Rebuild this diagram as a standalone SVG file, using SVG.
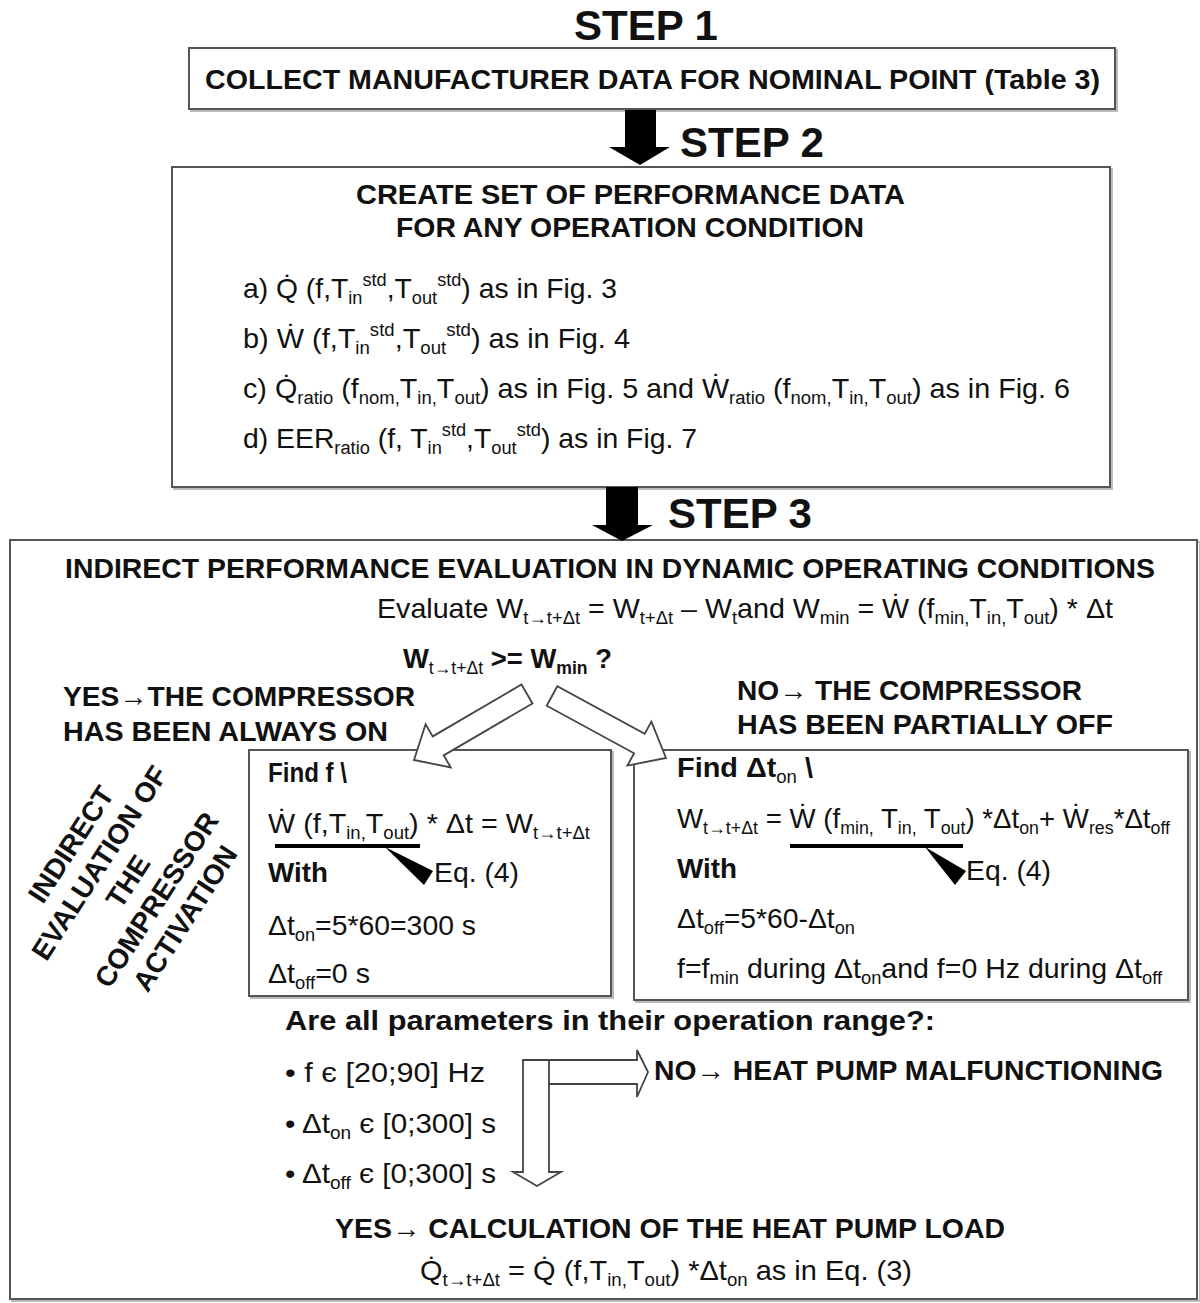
<svg xmlns="http://www.w3.org/2000/svg" width="1200" height="1303" viewBox="0 0 1200 1303">
<style>
text{fill:#111;font-family:"Liberation Sans Narrow","Liberation Sans",Arial,sans-serif}
.b{font-weight:bold}
.st{font-family:"Liberation Sans",Arial,sans-serif;font-weight:bold;font-size:42px}
.h{font-weight:bold;font-size:28px}
.r{font-size:28px}
.s{font-size:18px}
.sb{font-size:18px;font-weight:normal}
.box{fill:#fff;stroke:#555;stroke-width:2}
.shadow{fill:none;stroke:#bbb;stroke-width:2}
.solid{fill:#000;stroke:none}
.hollow{fill:#fff;stroke:#444;stroke-width:1.8;stroke-linejoin:miter}
.rot{font-family:"Liberation Sans",Arial,sans-serif;font-weight:bold;font-size:28px}
</style>

<g id="step1">
<text class="st" x="646" y="40" text-anchor="middle">STEP 1</text>
<rect class="shadow" x="191" y="50" width="926" height="61"/>
<rect class="box" x="189" y="48" width="926" height="61"/>
<text class="h" x="205" y="89" textLength="895" lengthAdjust="spacingAndGlyphs">COLLECT MANUFACTURER DATA FOR NOMINAL POINT (Table 3)</text>
</g>

<g id="step2">
<text class="st" x="680" y="157">STEP 2</text>
<rect class="shadow" x="174" y="169" width="938" height="320"/>
<rect class="box" x="172" y="167" width="938" height="320"/>
<text class="h" x="356" y="204" textLength="549" lengthAdjust="spacingAndGlyphs">CREATE  SET OF PERFORMANCE DATA</text>
<text class="h" x="396" y="237" textLength="468" lengthAdjust="spacingAndGlyphs">FOR ANY OPERATION CONDITION</text>
<text class="r" x="243" y="298" textLength="374" lengthAdjust="spacingAndGlyphs">a) Q&#x307; (f,T<tspan class="s" dy="6">in</tspan><tspan class="s" dy="-18">std</tspan><tspan dy="12">,T</tspan><tspan class="s" dy="6">out</tspan><tspan class="s" dy="-18">std</tspan><tspan dy="12">) as in Fig. 3</tspan></text>
<text class="r" x="243" y="348" textLength="387" lengthAdjust="spacingAndGlyphs">b) W&#x307; (f,T<tspan class="s" dy="6">in</tspan><tspan class="s" dy="-18">std</tspan><tspan dy="12">,T</tspan><tspan class="s" dy="6">out</tspan><tspan class="s" dy="-18">std</tspan><tspan dy="12">)  as in Fig. 4</tspan></text>
<text class="r" x="243" y="398" textLength="827" lengthAdjust="spacingAndGlyphs">c) Q&#x307;<tspan class="s" dy="6">ratio</tspan><tspan dy="-6"> (f</tspan><tspan class="s" dy="6">nom,</tspan><tspan dy="-6">T</tspan><tspan class="s" dy="6">in,</tspan><tspan dy="-6">T</tspan><tspan class="s" dy="6">out</tspan><tspan dy="-6">) as in Fig. 5 and W&#x307;</tspan><tspan class="s" dy="6">ratio</tspan><tspan dy="-6"> (f</tspan><tspan class="s" dy="6">nom,</tspan><tspan dy="-6">T</tspan><tspan class="s" dy="6">in,</tspan><tspan dy="-6">T</tspan><tspan class="s" dy="6">out</tspan><tspan dy="-6">) as in Fig. 6</tspan></text>
<text class="r" x="243" y="448" textLength="454" lengthAdjust="spacingAndGlyphs">d) EER<tspan class="s" dy="6">ratio</tspan><tspan dy="-6"> (f, T</tspan><tspan class="s" dy="6">in</tspan><tspan class="s" dy="-18">std</tspan><tspan dy="12">,T</tspan><tspan class="s" dy="6">out</tspan><tspan class="s" dy="-18">std</tspan><tspan dy="12">) as in Fig. 7</tspan></text>
</g>

<g id="step3">
<text class="st" x="668" y="528">STEP 3</text>
<rect class="shadow" x="12" y="542" width="1188" height="759"/>
<rect class="box" x="10" y="540" width="1187" height="759"/>
<text class="h" x="65" y="578" textLength="1090" lengthAdjust="spacingAndGlyphs">INDIRECT PERFORMANCE EVALUATION IN DYNAMIC OPERATING CONDITIONS</text>
<text class="r" x="377" y="618" textLength="736" lengthAdjust="spacingAndGlyphs">Evaluate W<tspan class="s" dy="6">t→t+Δt</tspan><tspan dy="-6"> = W</tspan><tspan class="s" dy="6">t+Δt</tspan><tspan dy="-6"> – W</tspan><tspan class="s" dy="6">t</tspan><tspan dy="-6">and  W</tspan><tspan class="s" dy="6">min</tspan><tspan dy="-6"> = W&#x307; (f</tspan><tspan class="s" dy="6">min,</tspan><tspan dy="-6">T</tspan><tspan class="s" dy="6">in,</tspan><tspan dy="-6">T</tspan><tspan class="s" dy="6">out</tspan><tspan dy="-6">) * Δt</tspan></text>
<text class="h" x="403" y="668" textLength="209" lengthAdjust="spacingAndGlyphs">W<tspan class="sb" dy="6">t→t+Δt</tspan><tspan dy="-6"> &gt;= W</tspan><tspan class="s" dy="6">min</tspan><tspan dy="-6"> ?</tspan></text>
</g>

<g id="yes-branch">
<text class="h" x="63" y="706" textLength="352" lengthAdjust="spacingAndGlyphs">YES→THE COMPRESSOR</text>
<text class="h" x="63" y="741" textLength="325" lengthAdjust="spacingAndGlyphs">HAS BEEN ALWAYS ON</text>
</g>

<g id="no-branch">
<text class="h" x="737" y="700" textLength="345" lengthAdjust="spacingAndGlyphs">NO→ THE COMPRESSOR</text>
<text class="h" x="737" y="734" textLength="376" lengthAdjust="spacingAndGlyphs">HAS BEEN PARTIALLY OFF</text>
</g>

<g id="rotated-label" transform="translate(126,880) rotate(-57)">
<text class="rot" x="0" y="-56" text-anchor="middle">INDIRECT</text>
<text class="rot" x="0" y="-22" text-anchor="middle">EVALUATION OF</text>
<text class="rot" x="0" y="12" text-anchor="middle">THE</text>
<text class="rot" x="0" y="46" text-anchor="middle">COMPRESSOR</text>
<text class="rot" x="0" y="80" text-anchor="middle">ACTIVATION</text>
</g>

<g id="always-on-box">
<rect class="shadow" x="251" y="752" width="362" height="246"/>
<rect class="box" x="249" y="750" width="362" height="246"/>
<text class="h" x="268" y="782" textLength="79" lengthAdjust="spacingAndGlyphs">Find f \</text>
<text class="r" x="268" y="833" textLength="322" lengthAdjust="spacingAndGlyphs">W&#x307; (f,T<tspan class="s" dy="6">in,</tspan><tspan dy="-6">T</tspan><tspan class="s" dy="6">out</tspan><tspan dy="-6">) * Δt = W</tspan><tspan class="s" dy="6">t→t+Δt</tspan></text>
<line x1="275" y1="846" x2="420" y2="846" stroke="#000" stroke-width="4"/>
<polygon class="solid" points="385,847 433,871 424,885"/>
<text class="h" x="268" y="882" textLength="60" lengthAdjust="spacingAndGlyphs">With</text>
<text class="r" x="434" y="882" textLength="85" lengthAdjust="spacingAndGlyphs">Eq. (4)</text>
<text class="r" x="268" y="935" textLength="208" lengthAdjust="spacingAndGlyphs">Δt<tspan class="s" dy="6">on</tspan><tspan dy="-6">=5*60=300 s</tspan></text>
<text class="r" x="268" y="983" textLength="102" lengthAdjust="spacingAndGlyphs">Δt<tspan class="s" dy="6">off</tspan><tspan dy="-6">=0 s</tspan></text>
</g>

<g id="partially-off-box">
<rect class="shadow" x="636" y="752" width="554" height="250"/>
<rect class="box" x="634" y="750" width="554" height="250"/>
<text class="h" x="677" y="777" textLength="136" lengthAdjust="spacingAndGlyphs">Find Δt<tspan class="sb" dy="6">on</tspan><tspan dy="-6"> \</tspan></text>
<text class="r" x="677" y="828" textLength="493" lengthAdjust="spacingAndGlyphs">W<tspan class="s" dy="6">t→t+Δt</tspan><tspan dy="-6"> = W&#x307; (f</tspan><tspan class="s" dy="6">min,</tspan><tspan dy="-6"> T</tspan><tspan class="s" dy="6">in,</tspan><tspan dy="-6"> T</tspan><tspan class="s" dy="6">out</tspan><tspan dy="-6">) *Δt</tspan><tspan class="s" dy="6">on</tspan><tspan dy="-6">+ W&#x307;</tspan><tspan class="s" dy="6">res</tspan><tspan dy="-6">*Δt</tspan><tspan class="s" dy="6">off</tspan></text>
<line x1="790" y1="846" x2="963" y2="846" stroke="#000" stroke-width="4"/>
<polygon class="solid" points="925,847 966,871 955,885"/>
<text class="h" x="677" y="878" textLength="60" lengthAdjust="spacingAndGlyphs">With</text>
<text class="r" x="966" y="880" textLength="85" lengthAdjust="spacingAndGlyphs">Eq. (4)</text>
<text class="r" x="677" y="928" textLength="178" lengthAdjust="spacingAndGlyphs">Δt<tspan class="s" dy="6">off</tspan><tspan dy="-6">=5*60-Δt</tspan><tspan class="s" dy="6">on</tspan></text>
<text class="r" x="677" y="978" textLength="485" lengthAdjust="spacingAndGlyphs">f=f<tspan class="s" dy="6">min</tspan><tspan dy="-6"> during Δt</tspan><tspan class="s" dy="6">on</tspan><tspan dy="-6">and f=0 Hz during Δt</tspan><tspan class="s" dy="6">off</tspan></text>
</g>

<g id="range-check">
<text class="h" x="285" y="1030" textLength="650" lengthAdjust="spacingAndGlyphs">Are all parameters in their operation range?:</text>
<text class="r" x="285" y="1082" textLength="200" lengthAdjust="spacingAndGlyphs">• f є  [20;90] Hz</text>
<text class="r" x="285" y="1133" textLength="211" lengthAdjust="spacingAndGlyphs">• Δt<tspan class="s" dy="6">on</tspan><tspan dy="-6"> є [0;300] s</tspan></text>
<text class="r" x="285" y="1183" textLength="211" lengthAdjust="spacingAndGlyphs">• Δt<tspan class="s" dy="6">off</tspan><tspan dy="-6"> є [0;300] s</tspan></text>
</g>

<g id="malfunction">
<text class="h" x="654" y="1080" textLength="509" lengthAdjust="spacingAndGlyphs">NO→ HEAT PUMP MALFUNCTIONING</text>
</g>

<g id="load">
<text class="h" x="335" y="1238" textLength="670" lengthAdjust="spacingAndGlyphs">YES→ CALCULATION OF THE HEAT PUMP LOAD</text>
<text class="r" x="420" y="1280" textLength="492" lengthAdjust="spacingAndGlyphs">Q&#x307;<tspan class="s" dy="6">t→t+Δt</tspan><tspan dy="-6"> = Q&#x307; (f,T</tspan><tspan class="s" dy="6">in,</tspan><tspan dy="-6">T</tspan><tspan class="s" dy="6">out</tspan><tspan dy="-6">) *Δt</tspan><tspan class="s" dy="6">on</tspan><tspan dy="-6">  as in Eq. (3)</tspan></text>
</g>

<g id="connectors">
<path class="solid" d="M625,110 H656 V147 H670 L640,165 L609,147 H625 Z"/>
<path class="solid" d="M606,487 H638 V525 H653 L622,541 L592,525 H606 Z"/>
<path class="hollow" d="M521.5,684.5 L532.5,703.5 L443.7,755.4 L450.8,767.5 L414,760 L425.6,724.3 L432.7,736.4 Z"/>
<path class="hollow" d="M557.3,686.3 L546.7,705.7 L634.1,753.3 L627.4,765.6 L666,758 L651.4,721.6 L644.7,733.9 Z"/>
<path class="hollow" d="M523,1060 H637 V1050 L648,1072 L637,1097 V1084 H549 V1172 H561 L537,1186 L513,1172 H523 Z"/>
<line x1="549" y1="1060" x2="549" y2="1084" stroke="#444" stroke-width="1.8"/>
</g>
</svg>
